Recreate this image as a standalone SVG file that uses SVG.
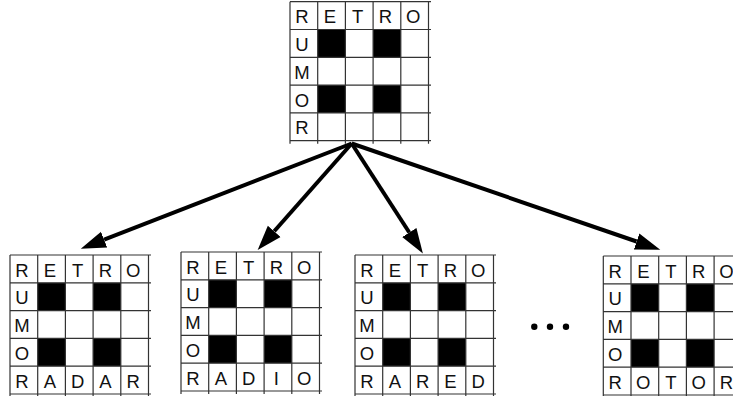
<svg xmlns="http://www.w3.org/2000/svg" xmlns:xlink="http://www.w3.org/1999/xlink" width="733" height="396" viewBox="0 0 733 396">
<style>
.ln{stroke:#333;stroke-width:1.2;fill:none}
.blk{fill:#000}
.t{font-family:"Liberation Sans",Arial,sans-serif;font-size:18.5px;fill:#111;text-anchor:middle}
.arr{stroke:#000;stroke-width:4;fill:none;marker-end:url(#ah)}
</style>
<defs>
<marker id="ah" markerUnits="userSpaceOnUse" markerWidth="28" markerHeight="20" viewBox="0 -10 28 20" refX="0" refY="0" orient="auto">
<path d="M0,-8.5 L25,0 L0,8.5 z" fill="#000"/>
</marker>
<g id="grid">
<rect class="blk" x="27.7" y="27.8" width="27.7" height="27.8"/>
<rect class="blk" x="83.1" y="27.8" width="27.7" height="27.8"/>
<rect class="blk" x="27.7" y="83.4" width="27.7" height="27.8"/>
<rect class="blk" x="83.1" y="83.4" width="27.7" height="27.8"/>
<path class="ln" d="M0,0H141M0,27.8H141M0,55.6H141M0,83.4H141M0,111.2H141M0,139H141M0,0V142M27.7,0V142M55.4,0V142M83.1,0V142M110.8,0V142M138.5,0V142"/>
</g>
</defs>
<rect width="733" height="396" fill="#fff"/>

<g id="connectors">
<line class="arr" x1="351.7" y1="143.5" x2="104.1" y2="239.6"/>
<line class="arr" x1="351.7" y1="143.5" x2="274.2" y2="231.3"/>
<line class="arr" x1="351.7" y1="143.5" x2="409.3" y2="232.5"/>
<line class="arr" x1="351.7" y1="143.5" x2="636.6" y2="241.5"/>
</g>

<g id="top" transform="translate(290,1.7)">
<use xlink:href="#grid"/>
<text class="t" x="12" y="21.5">R</text><text class="t" x="40" y="21.5">E</text><text class="t" x="67.7" y="21.5">T</text><text class="t" x="95.4" y="21.5">R</text><text class="t" x="123.1" y="21.5">O</text>
<text class="t" x="12" y="49.3">U</text>
<text class="t" x="12" y="77.1">M</text>
<text class="t" x="12" y="104.9">O</text>
<text class="t" x="12" y="132.7">R</text>
</g>

<g id="g1" transform="translate(10,255)">
<use xlink:href="#grid"/>
<text class="t" x="12" y="21.5">R</text><text class="t" x="40" y="21.5">E</text><text class="t" x="67.7" y="21.5">T</text><text class="t" x="95.4" y="21.5">R</text><text class="t" x="123.1" y="21.5">O</text>
<text class="t" x="12" y="49.3">U</text>
<text class="t" x="12" y="77.1">M</text>
<text class="t" x="12" y="104.9">O</text>
<text class="t" x="12" y="132.7">R</text><text class="t" x="40" y="132.7">A</text><text class="t" x="67.7" y="132.7">D</text><text class="t" x="95.4" y="132.7">A</text><text class="t" x="123.1" y="132.7">R</text>
</g>

<g id="g2" transform="translate(181,252)">
<use xlink:href="#grid"/>
<text class="t" x="12" y="21.5">R</text><text class="t" x="40" y="21.5">E</text><text class="t" x="67.7" y="21.5">T</text><text class="t" x="95.4" y="21.5">R</text><text class="t" x="123.1" y="21.5">O</text>
<text class="t" x="12" y="49.3">U</text>
<text class="t" x="12" y="77.1">M</text>
<text class="t" x="12" y="104.9">O</text>
<text class="t" x="12" y="132.7">R</text><text class="t" x="40" y="132.7">A</text><text class="t" x="67.7" y="132.7">D</text><text class="t" x="95.4" y="132.7">I</text><text class="t" x="123.1" y="132.7">O</text>
</g>

<g id="g3" transform="translate(355,255)">
<use xlink:href="#grid"/>
<text class="t" x="12" y="21.5">R</text><text class="t" x="40" y="21.5">E</text><text class="t" x="67.7" y="21.5">T</text><text class="t" x="95.4" y="21.5">R</text><text class="t" x="123.1" y="21.5">O</text>
<text class="t" x="12" y="49.3">U</text>
<text class="t" x="12" y="77.1">M</text>
<text class="t" x="12" y="104.9">O</text>
<text class="t" x="12" y="132.7">R</text><text class="t" x="40" y="132.7">A</text><text class="t" x="67.7" y="132.7">R</text><text class="t" x="95.4" y="132.7">E</text><text class="t" x="123.1" y="132.7">D</text>
</g>

<g id="dots">
<circle cx="534.3" cy="326.7" r="3.2"/>
<circle cx="550" cy="326.7" r="3.2"/>
<circle cx="566" cy="326.7" r="3.2"/>
</g>

<g id="g4" transform="translate(603.3,256)">
<use xlink:href="#grid"/>
<text class="t" x="12" y="21.5">R</text><text class="t" x="40" y="21.5">E</text><text class="t" x="67.7" y="21.5">T</text><text class="t" x="95.4" y="21.5">R</text><text class="t" x="123.1" y="21.5">O</text>
<text class="t" x="12" y="49.3">U</text>
<text class="t" x="12" y="77.1">M</text>
<text class="t" x="12" y="104.9">O</text>
<text class="t" x="12" y="132.7">R</text><text class="t" x="40" y="132.7">O</text><text class="t" x="67.7" y="132.7">T</text><text class="t" x="95.4" y="132.7">O</text><text class="t" x="123.1" y="132.7">R</text>
</g>
</svg>
